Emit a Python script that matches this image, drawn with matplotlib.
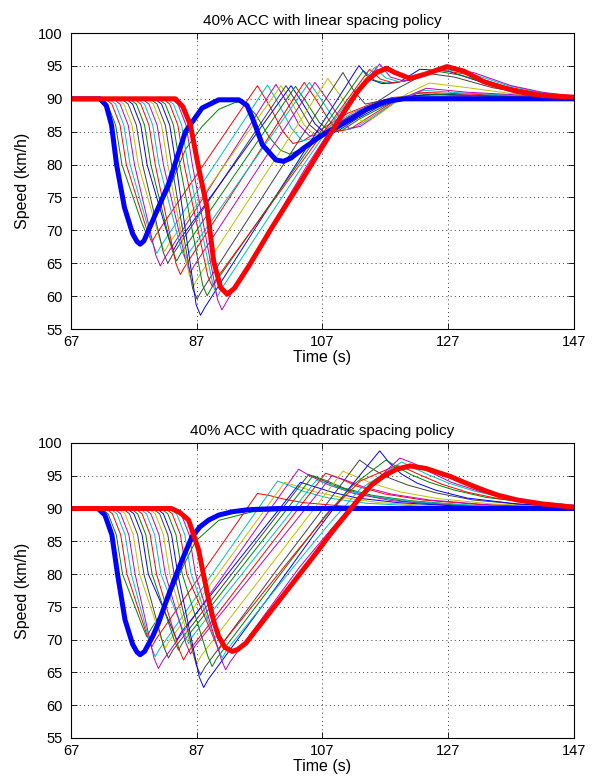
import matplotlib
matplotlib.use("Agg")
import matplotlib.pyplot as plt

plt.rcParams['font.family'] = ['Liberation Sans', 'DejaVu Sans']

# ---------------------------------------------------------------------------
# Datos (tiempo en s, velocidad en km/h)
# vehiculo 1 = lider (azul grueso), vehiculo 20 = ultimo (rojo grueso)
# ---------------------------------------------------------------------------

TIME_TICKS = [67, 87, 107, 127, 147]
SPEED_TICKS = [55, 60, 65, 70, 75, 80, 85, 90, 95, 100]

TITLES = ["40% ACC with linear spacing policy",
          "40% ACC with quadratic spacing policy"]

# colores por defecto de MATLAB (b, g, r, c, m, y, k)
MATLAB_COLORS = ['#0000ff', '#008000', '#ff0000', '#00bfbf',
                 '#bf00bf', '#bfbf00', '#404040']

# --- politica lineal -------------------------------------------------------
lin_t = [
    [67, 71.6, 72.6, 73.45, 74.25, 75.5, 76.8, 77.5, 78.0, 78.6, 80.0, 82.5, 85.2, 87.85, 90.5,
     93.7, 95.0, 95.85, 97.45, 99.6, 100.8, 102.0, 104.0, 106.5, 109.0, 111.3, 114.0, 117.0, 120, 147],
    [67, 71.7, 72.8, 74.1, 75.1, 78.2, 78.9, 79.6, 82.5, 85.2, 87.85, 90.5, 93.0, 94.5, 96.4, 98.5,
     100.3, 101.8, 103.5, 106.5, 111, 116, 120, 147],
    [67, 72.4, 73.5, 74.8, 75.8, 79.15, 79.85, 80.55, 96.65, 98.5, 100.65, 102.3, 103.9, 107, 111, 116, 121, 147],
    [67, 73.0, 74.1, 75.4, 76.4, 79.95, 80.65, 81.35, 98.25, 100.0, 102.0, 103.8, 105.5, 108.5, 112, 117, 122, 147],
    [67, 73.7, 74.8, 76.1, 77.1, 80.5, 81.2, 81.9, 99.6, 101.4, 103.3, 105.0, 106.8, 109.5, 113, 118, 123, 147],
    [67, 74.3, 75.4, 76.7, 77.7, 81.2, 81.9, 82.6, 100.4, 102.2, 104.1, 105.8, 107.6, 110.3, 114, 119, 124, 147],
    [67, 75.0, 76.1, 77.4, 78.4, 81.7, 82.4, 83.1, 101.2, 103.0, 105.0, 106.8, 108.6, 111.2, 115, 120, 125, 147],
    [67, 75.7, 76.8, 78.1, 79.1, 82.6, 83.3, 84.0, 102.0, 103.8, 105.8, 107.5, 109.3, 112, 116, 121, 125, 147],
    [67, 76.3, 77.4, 78.7, 79.7, 83.1, 83.8, 84.5, 102.7, 104.5, 106.5, 108.3, 110.1, 112.8, 117, 122, 127, 147],
    [67, 77.0, 78.1, 79.4, 80.4, 83.7, 84.4, 85.1, 104.1, 105.9, 108, 109.6, 111.4, 114, 118, 122.5, 128, 147],
    [67, 77.6, 78.7, 80.0, 81.0, 84.5, 85.2, 85.9, 104.9, 106.7, 108.8, 110.4, 112.2, 114.8, 118.5, 123, 129, 147],
    [67, 78.3, 79.4, 80.7, 81.7, 85.3, 86.0, 86.7, 105.8, 107.6, 109.7, 111.2, 113, 115.5, 119, 123.5, 130, 147],
    [67, 79.0, 80.1, 81.4, 82.4, 85.8, 86.5, 87.2, 107.85, 109.6, 111.6, 113.2, 115, 117.5, 120.5, 124, 130, 137, 147],
    [67, 79.6, 80.7, 82.0, 83.0, 86.35, 87.05, 87.75, 110.25, 112.0, 113.8, 115.8, 119, 123.5, 128, 134, 140, 147],
    [67, 80.3, 81.4, 82.7, 83.7, 86.9, 87.6, 88.3, 112.8, 114.5, 116.5, 119.3, 122.5, 127, 133, 140, 147],
    [67, 80.9, 82.0, 83.3, 84.3, 87.95, 88.65, 89.35, 113.5, 115.3, 117.5, 120.5, 124.5, 129, 135, 141, 147],
    [67, 81.6, 82.7, 84.0, 85.0, 88.75, 89.45, 90.15, 114.5, 116.2, 118.3, 121, 125, 130, 136, 142, 147],
    [67, 82.2, 83.3, 84.6, 85.6, 89.6, 90.3, 91.0, 103.5, 110.0, 115.3, 117, 119.2, 121.8, 125.5, 130.5, 136.5, 142, 147],
    [67, 82.9, 84.0, 85.3, 86.3, 90.3, 91.0, 91.7, 104.5, 110.5, 116.1, 117.8, 120, 122.5, 126, 131, 137, 142, 147],
    [67, 83.6, 84.8, 86.0, 87.2, 88.65, 89.7, 90.8, 91.85, 93.0, 95.3, 99.0, 103.3, 106.0, 108.6,
     110.5, 112.5, 114.0, 115.6, 117.2, 118.5, 120.9, 123.5, 126.8, 129.5, 132.65, 135.0, 138.0, 142.0, 147],
]
lin_v = [
    [90, 90, 89.0, 86.0, 80.0, 73.5, 69.5, 68.3, 67.9, 68.4, 71.5, 77.0, 85.0, 88.6, 89.85,
     89.85, 89.0, 87.1, 83.0, 80.7, 80.5, 81.0, 82.5, 84.2, 85.6, 86.8, 88.4, 89.6, 90.0, 90.0],
    [90, 90, 89.2, 86, 80, 71.3, 69.7, 70.9, 76.0, 82.3, 85.8, 88.4, 89.4, 89.6, 87.6, 84.2,
     82.2, 81.6, 82.3, 84.3, 87.2, 89.5, 90.1, 90.0],
    [90, 90, 89.2, 86, 80, 69.8, 68.2, 69.4, 92.0, 89.1, 85.1, 83.2, 83.6, 85.5, 87.8, 89.7, 90.3, 90.0],
    [90, 90, 89.2, 86, 80, 68.1, 66.5, 67.7, 92.1, 89.3, 85.6, 83.6, 84.0, 86.0, 88.0, 89.9, 90.4, 90.0],
    [90, 90, 89.2, 86, 80, 66.2, 64.6, 65.8, 92.2, 89.4, 86.0, 84.3, 84.6, 86.3, 88.3, 90.2, 90.5, 90.0],
    [90, 90, 89.2, 86, 80, 68.4, 66.8, 68.0, 92.0, 89.3, 86.0, 84.4, 84.7, 86.4, 88.5, 90.3, 90.6, 90.0],
    [90, 90, 89.2, 86, 80, 66.6, 65.0, 66.2, 92.0, 89.3, 86.0, 84.5, 84.8, 86.5, 88.6, 90.4, 90.7, 90.0],
    [90, 90, 89.2, 86, 80, 68.6, 67.0, 68.2, 92.0, 89.4, 86.2, 84.7, 85.0, 86.7, 88.8, 90.4, 90.7, 90.0],
    [90, 90, 89.2, 86, 80, 66.95, 65.35, 66.55, 91.9, 89.4, 86.4, 84.9, 85.2, 86.9, 89.0, 90.8, 90.6, 90.05],
    [90, 90, 89.2, 86, 80, 64.9, 63.3, 64.5, 92.5, 90.0, 86.8, 85.1, 85.4, 87.0, 89.4, 91.0, 90.8, 90.1],
    [90, 90, 89.2, 86, 80, 67.2, 65.6, 66.8, 92.5, 90.0, 87.0, 85.3, 85.6, 87.2, 89.5, 91.3, 90.9, 90.1],
    [90, 90, 89.2, 86, 80, 65.2, 63.6, 64.8, 92.5, 90.1, 87.2, 85.5, 85.8, 87.4, 89.8, 91.6, 91.0, 90.15],
    [90, 90, 89.2, 86, 80, 63.2, 61.6, 62.8, 93.1, 90.8, 88.0, 86.6, 87.0, 88.7, 90.8, 92.4, 91.7, 90.8, 90.2],
    [90, 90, 89.2, 86, 80, 61.15, 59.55, 60.75, 94.0, 91.2, 89.2, 89.6, 91.6, 93.9, 93.3, 91.7, 90.7, 90.25],
    [90, 90, 89.2, 86, 80, 58.7, 57.1, 58.3, 95.05, 93.0, 92.3, 92.6, 94.5, 94.2, 92.3, 90.9, 90.3],
    [90, 90, 89.2, 86, 80, 61.65, 60.05, 61.25, 94.3, 92.8, 92.3, 92.8, 94.3, 93.6, 91.9, 90.8, 90.35],
    [90, 90, 89.2, 86, 80, 63.1, 61.5, 62.7, 94.5, 93.0, 92.4, 92.9, 94.5, 93.7, 91.9, 90.8, 90.35],
    [90, 90, 89.2, 86, 80, 61.6, 60.0, 61.2, 79.3, 88.3, 94.8, 93.2, 92.6, 93.0, 94.6, 93.9, 92.0, 90.9, 90.4],
    [90, 90, 89.2, 86, 80, 59.5, 57.9, 59.1, 79.8, 88.6, 95.3, 93.3, 92.7, 93.2, 94.7, 94.0, 92.0, 91.0, 90.4],
    [90, 90, 88.8, 86.0, 80.0, 73.4, 65.3, 61.3, 60.3, 61.2, 64.6, 70.5, 77.0, 81.2, 85.2,
     88.1, 91.0, 92.7, 94.0, 94.65, 94.0, 93.1, 93.8, 94.9, 94.2, 92.6, 91.9, 91.1, 90.5, 90.25],
]

# --- politica cuadratica ---------------------------------------------------
quad_t = [
    [67, 71.3, 72.4, 73.5, 74.4, 75.6, 76.8, 77.5, 78.0, 78.7, 80.0, 80.9, 82.2, 83.6, 85.0,
     86.25, 87.5, 88.9, 90.5, 92.6, 95.0, 97.0, 100.0, 105.0, 147],
    [67, 71.8, 72.9, 74.2, 75.2, 78.35, 79.05, 79.75, 82.0, 84.5, 86.8, 90.5, 95.85, 103.85, 110, 147],
    [67, 72.5, 73.6, 74.9, 75.9, 79.15, 79.85, 80.55, 96.65, 98.5, 101, 104, 110, 120, 147],
    [67, 73.2, 74.3, 75.6, 76.6, 79.7, 80.4, 81.1, 99.85, 101.5, 104, 108, 114, 124, 147],
    [67, 73.8, 74.9, 76.2, 77.2, 80.2, 80.9, 81.6, 103.2, 105, 108, 112, 118, 127, 147],
    [67, 74.5, 75.6, 76.9, 77.9, 81.3, 82.0, 82.7, 101.0, 103, 106, 110, 116, 125, 147],
    [67, 75.2, 76.3, 77.6, 78.6, 81.8, 82.5, 83.2, 104.8, 106.5, 109.5, 113.5, 120, 129, 147],
    [67, 75.9, 77.0, 78.3, 79.3, 83.15, 83.85, 84.55, 103.5, 105.5, 108.5, 112.5, 119, 128, 147],
    [67, 76.5, 77.6, 78.9, 79.9, 83.4, 84.1, 84.8, 105.5, 107.5, 110.5, 115, 121, 130, 147],
    [67, 77.2, 78.3, 79.6, 80.6, 84.2, 84.9, 85.6, 107.5, 109.5, 112.5, 117, 123, 132, 147],
    [67, 77.9, 79.0, 80.3, 81.3, 85.0, 85.7, 86.4, 106.0, 108, 111, 115.5, 122, 131, 147],
    [67, 78.6, 79.7, 81.0, 82.0, 85.3, 86.0, 86.7, 108.5, 110.5, 113.5, 118, 124, 133, 147],
    [67, 79.3, 80.4, 81.7, 82.7, 86.35, 87.05, 87.75, 110.25, 112, 115, 119.5, 125.5, 134, 147],
    [67, 80.0, 81.1, 82.4, 83.4, 86.9, 87.6, 88.3, 100.0, 106.0, 112.9, 114.5, 117, 120.5, 125, 131, 139, 147],
    [67, 80.6, 81.7, 83.0, 84.0, 87.4, 88.1, 88.8, 100.0, 106.0, 111.0, 116.1, 117.6, 119.5, 122, 125, 130, 138, 147],
    [67, 81.3, 82.4, 83.7, 84.7, 88.75, 89.45, 90.15, 101.5, 107.5, 112.0, 117.1, 118.8, 121, 124, 128, 133, 140, 147],
    [67, 82.0, 83.1, 84.4, 85.4, 89.8, 90.5, 91.2, 102.5, 108.0, 113.0, 118.8, 120.5, 122.8, 126, 130, 135, 141, 147],
    [67, 82.7, 83.8, 85.1, 86.1, 90.35, 91.05, 91.75, 103.0, 108.0, 113.0, 119.6, 121.3, 123.5, 127, 131, 136, 142, 147],
    [67, 83.4, 84.5, 85.8, 86.8, 90.9, 91.6, 92.3, 103.3, 108.5, 113.0, 119.3, 121.5, 124, 127.5, 132, 137, 142, 147],
    [67, 83.0, 84.3, 85.7, 86.5, 87.3, 88.1, 88.9, 89.7, 90.5, 91.5, 92.65, 93.5, 94.8, 98.5,
     102.25, 105.5, 108.65, 112.9, 114.8, 116.65, 118.8, 120.9, 123.5, 127.3, 130.0, 132.65, 135.0, 138.0, 142.0, 147],
]
quad_v = [
    [90, 90, 89.0, 86.0, 80.0, 73.0, 69.3, 68.1, 67.7, 68.2, 70.5, 72.5, 76.0, 79.6, 82.9,
     85.7, 87.2, 88.25, 89.0, 89.5, 89.8, 89.9, 90.0, 90.0, 90.0],
    [90, 90, 89.2, 86, 80, 72.05, 70.45, 71.65, 75.0, 80.5, 85.0, 88.2, 89.5, 89.8, 90.0, 90.0],
    [90, 90, 89.2, 86, 80, 70.5, 68.9, 70.1, 92.3, 92.0, 91.4, 90.9, 90.4, 90.15, 90.0],
    [90, 90, 89.2, 86, 80, 69.0, 67.4, 68.6, 94.2, 93.6, 92.6, 91.6, 90.8, 90.3, 90.05],
    [90, 90, 89.2, 86, 80, 67.2, 65.6, 66.8, 96.0, 95.0, 93.6, 92.3, 91.2, 90.5, 90.1],
    [90, 90, 89.2, 86, 80, 70.3, 68.7, 69.9, 94.0, 93.4, 92.5, 91.7, 90.9, 90.4, 90.05],
    [90, 90, 89.2, 86, 80, 68.8, 67.2, 68.4, 95.2, 94.5, 93.3, 92.1, 91.1, 90.5, 90.1],
    [90, 90, 89.2, 86, 80, 71.55, 69.95, 71.15, 94.0, 93.4, 92.5, 91.6, 90.9, 90.4, 90.05],
    [90, 90, 89.2, 86, 80, 70.0, 68.4, 69.6, 95.0, 94.3, 93.1, 92.0, 91.2, 90.5, 90.1],
    [90, 90, 89.2, 86, 80, 68.5, 66.9, 68.1, 95.4, 94.7, 93.4, 92.2, 91.3, 90.6, 90.15],
    [90, 90, 89.2, 86, 80, 71.0, 69.4, 70.6, 94.3, 93.7, 92.7, 91.8, 91.0, 90.5, 90.1],
    [90, 90, 89.2, 86, 80, 69.4, 67.8, 69.0, 95.0, 94.4, 93.3, 92.2, 91.3, 90.6, 90.15],
    [90, 90, 89.2, 86, 80, 68.0, 66.4, 67.6, 95.7, 95.0, 93.8, 92.5, 91.5, 90.7, 90.2],
    [90, 90, 89.2, 86, 80, 66.2, 64.6, 65.8, 81.0, 88.6, 97.4, 96.3, 94.9, 93.6, 92.4, 91.3, 90.6, 90.3],
    [90, 90, 89.2, 86, 80, 64.3, 62.7, 63.9, 78.5, 86.5, 92.8, 98.8, 97.0, 95.3, 93.9, 92.8, 91.6, 90.7, 90.3],
    [90, 90, 89.2, 86, 80, 67.5, 65.9, 67.1, 81.5, 89.0, 93.7, 97.4, 96.4, 95.2, 94.0, 92.8, 91.7, 90.9, 90.4],
    [90, 90, 89.2, 86, 80, 70.0, 68.4, 69.6, 83.0, 89.4, 94.2, 96.6, 96.0, 95.0, 93.7, 92.5, 91.5, 90.8, 90.4],
    [90, 90, 89.2, 86, 80, 68.8, 67.2, 68.4, 81.8, 87.6, 93.0, 97.1, 96.3, 95.3, 93.9, 92.7, 91.6, 90.9, 90.5],
    [90, 90, 89.2, 86, 80, 67.0, 65.4, 66.6, 81.0, 87.0, 92.0, 97.7, 96.9, 95.6, 94.0, 92.6, 91.5, 90.9, 90.5],
    [90, 90, 89.4, 88.25, 86.0, 83.7, 79.8, 76.05, 72.8, 70.45, 68.8, 68.2, 68.5, 69.45, 74.0,
     78.6, 82.6, 86.6, 91.6, 93.6, 94.9, 96.0, 96.5, 96.1, 94.9, 93.8, 92.8, 92.0, 91.3, 90.7, 90.2],
]


def draw_panel(ax, times, speeds, title):
    n = len(times)
    # vehiculos intermedios: lineas finas con el orden de colores de MATLAB
    for k in range(1, n - 1):
        ax.plot(times[k], speeds[k], color=MATLAB_COLORS[k % 7], linewidth=0.7)
    # lider y ultimo vehiculo, lineas gruesas encima
    ax.plot(times[0], speeds[0], color='#0000ff', linewidth=3.6,
            solid_joinstyle='round', solid_capstyle='butt')
    ax.plot(times[-1], speeds[-1], color='#ff0000', linewidth=3.6,
            solid_joinstyle='round', solid_capstyle='butt')

    ax.set_xlim(TIME_TICKS[0], TIME_TICKS[-1])
    ax.set_ylim(SPEED_TICKS[0], SPEED_TICKS[-1])
    ax.set_xticks(TIME_TICKS)
    ax.set_yticks(SPEED_TICKS)
    ax.tick_params(direction='in', top=True, right=True, length=4,
                   width=0.6, labelsize=10.5)
    ax.tick_params(axis='x', pad=4)
    ax.tick_params(axis='y', pad=6)
    ax.grid(True, color='black', linestyle=(0, (1, 4)), linewidth=0.6)
    for sp in ax.spines.values():
        sp.set_linewidth(0.8)
    ax.set_title(title, fontsize=11, pad=6)
    ax.set_xlabel("Time (s)", fontsize=11.5, labelpad=1)
    ax.set_ylabel("Speed (km/h)", fontsize=11.5, labelpad=6)


fig = plt.figure(figsize=(5.95, 7.81), dpi=100)
ax1 = fig.add_axes([0.1193, 0.5787, 0.8454, 0.3790])
ax2 = fig.add_axes([0.1193, 0.0551, 0.8454, 0.3777])

draw_panel(ax1, lin_t, lin_v, TITLES[0])
draw_panel(ax2, quad_t, quad_v, TITLES[1])

fig.savefig("out.png", dpi=100)
